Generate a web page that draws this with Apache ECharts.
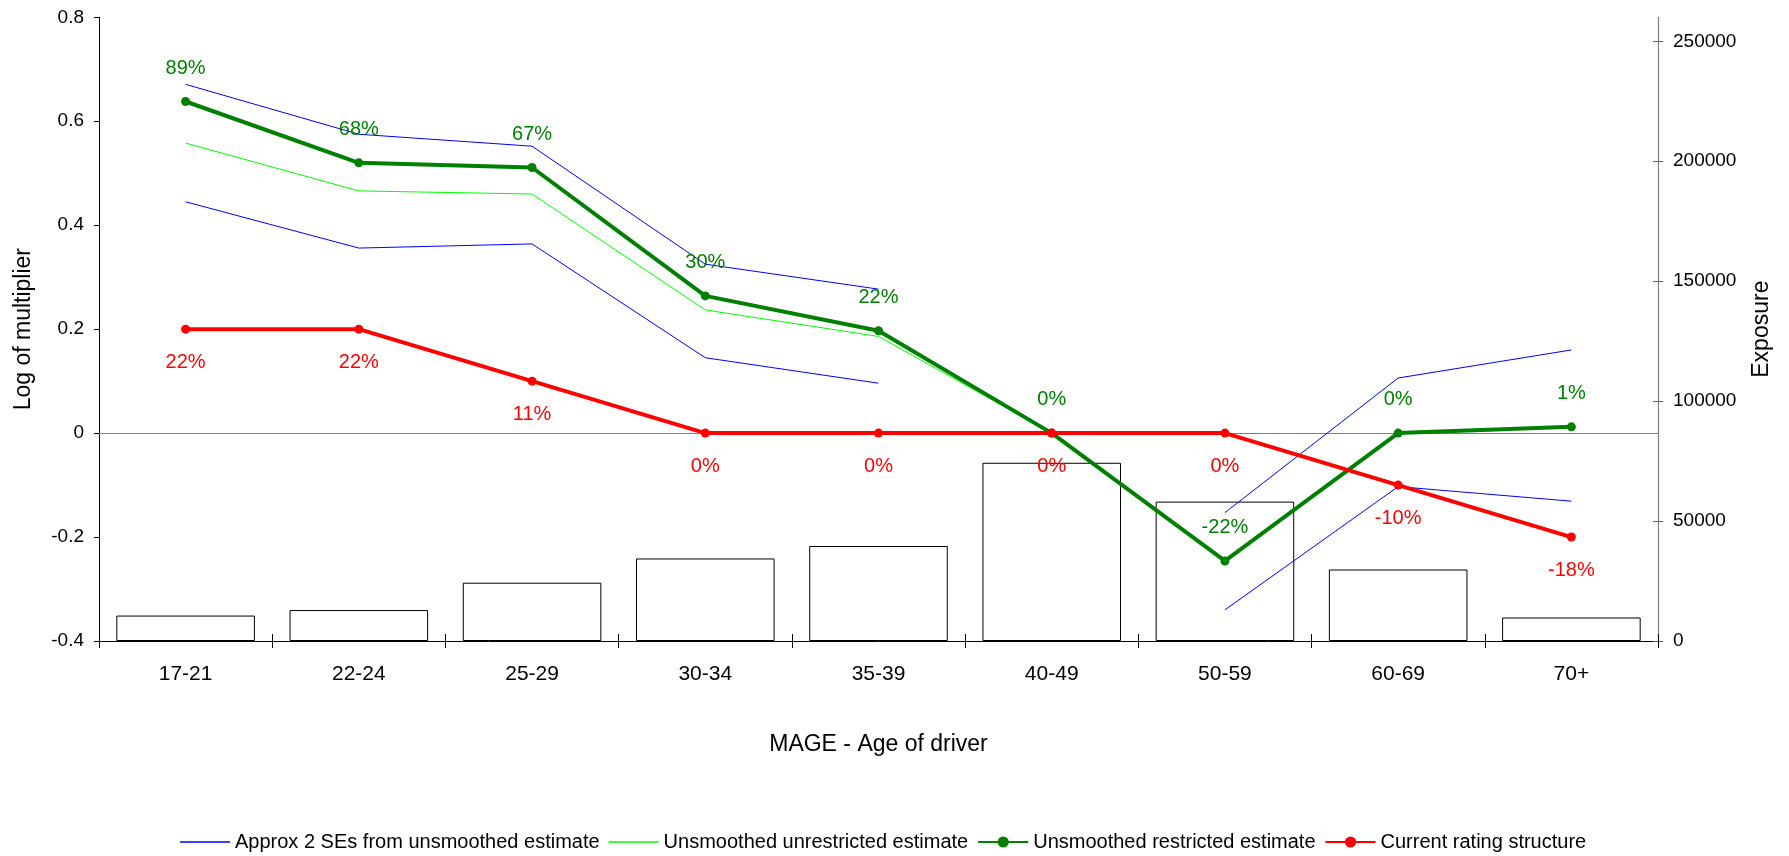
<!DOCTYPE html>
<html>
<head>
<meta charset="utf-8">
<script src="https://cdn.jsdelivr.net/npm/echarts@6/dist/echarts.min.js"></script>
<style>html,body{margin:0;padding:0;background:#fff;}#c{width:1789px;height:856px;}</style>
</head>
<body>
<div id="c"></div>
<script>
const categories = ['17-21','22-24','25-29','30-34','35-39','40-49','50-59','60-69','70+'];
const exposure = [10600, 12900, 24300, 34400, 39600, 74300, 58100, 29800, 9800];
const seUpper = [0.671, 0.575, 0.552, 0.325, 0.277, null, -0.153, 0.106, 0.160];
const seLower = [0.445, 0.356, 0.364, 0.145, 0.096, null, -0.340, -0.103, -0.131];
const unrestricted = [0.558, 0.466, 0.460, 0.237, 0.186, 0, -0.246, 0.001, 0.013];
const restricted = [0.638, 0.520, 0.511, 0.264, 0.197, 0, -0.246, 0, 0.012];
const current = [0.2, 0.2, 0.1, 0, 0, 0, 0, -0.1, -0.2];
const restrictedLabels = ['89%','68%','67%','30%','22%','0%','-22%','0%','1%'];
const currentLabels = ['22%','22%','11%','0%','0%','0%','0%','-10%','-18%'];
const leftTicks = [-0.4, -0.2, 0, 0.2, 0.4, 0.6, 0.8];
const rightTicks = [0, 50000, 100000, 150000, 200000, 250000];

const FONT = "'Liberation Sans', Arial, sans-serif";
const LINE_ICON = 'path://M0,0 L50,0 L50,1.6 L0,1.6 Z';
const chart = echarts.init(document.getElementById('c'), null, {renderer: 'canvas'});

const option = {
  animation: false,
  backgroundColor: '#fff',
  textStyle: {fontFamily: FONT, color: '#000'},
  grid: {left: 99, right: 131, top: 17.3, bottom: 215, containLabel: false, outerBoundsMode: 'none'},
  legend: {
    left: 175, top: 827,
    itemWidth: 50, itemHeight: 14, itemGap: 9,
    textStyle: {fontFamily: FONT, fontSize: 20, color: '#000'},
    data: [
      {name: 'Approx 2 SEs from unsmoothed estimate', icon: LINE_ICON},
      {name: 'Unsmoothed unrestricted estimate', icon: LINE_ICON},
      'Unsmoothed restricted estimate',
      'Current rating structure'
    ]
  },
  xAxis: [
    {
      type: 'category', data: categories, position: 'bottom',
      name: 'MAGE - Age of driver', nameLocation: 'middle', nameGap: 92,
      nameTextStyle: {fontFamily: FONT, fontSize: 23, color: '#000'},
      axisLine: {onZero: false, lineStyle: {color: '#000', width: 1}},
      axisTick: {show: true, inside: false, length: 7, lineStyle: {color: '#000'}},
      axisLabel: {fontFamily: FONT, fontSize: 21, color: '#000', margin: 23},
      splitLine: {show: false}
    },
    {
      type: 'category', data: categories, position: 'bottom',
      axisLine: {show: false, onZero: false},
      axisTick: {show: true, inside: true, length: 7, lineStyle: {color: '#000'}},
      axisLabel: {show: false}, splitLine: {show: false}
    },
    {
      type: 'category', data: categories, position: 'bottom',
      axisLine: {show: true, onZero: true, onZeroAxisIndex: 0, lineStyle: {color: '#808080', width: 1.2}},
      axisTick: {show: false}, axisLabel: {show: false}, splitLine: {show: false}
    }
  ],
  yAxis: [
    {
      type: 'value', min: -0.4, max: 0.8, interval: 0.2, position: 'left',
      name: 'Log of multiplier', nameLocation: 'middle', nameGap: 64,
      nameTextStyle: {fontFamily: FONT, fontSize: 23, color: '#000'},
      axisLine: {show: true, lineStyle: {color: '#000', width: 1}},
      axisTick: {show: true, length: 5, lineStyle: {color: '#000'}},
      axisLabel: {fontFamily: FONT, fontSize: 19, color: '#000', margin: 15,
        customValues: leftTicks,
        formatter: v => String(Math.round(v * 10) / 10)},
      splitLine: {show: false}
    },
    {
      type: 'value', min: 0, max: 260000, position: 'right',
      name: 'Exposure', nameLocation: 'middle', nameGap: 92,
      nameTextStyle: {fontFamily: FONT, fontSize: 23, color: '#000'},
      axisLine: {show: true, lineStyle: {color: '#808080', width: 1.2}},
      axisTick: {show: true, length: 5, customValues: rightTicks, lineStyle: {color: '#606060'}},
      axisLabel: {fontFamily: FONT, fontSize: 19, color: '#000', margin: 15, customValues: rightTicks,
        formatter: v => String(Math.round(v))},
      splitLine: {show: false}
    },
    {
      type: 'value', min: 0, max: 260000, position: 'right',
      axisLine: {show: false},
      axisTick: {show: true, inside: true, length: 5, customValues: rightTicks, lineStyle: {color: '#606060'}},
      axisLabel: {show: false}, splitLine: {show: false}
    }
  ],
  series: [
    {
      name: 'Exposure', type: 'bar', xAxisIndex: 0, yAxisIndex: 1, data: exposure,
      barCategoryGap: '20%', z: 1,
      itemStyle: {color: '#fff', borderColor: '#000', borderWidth: 1}
    },
    {
      name: 'Approx 2 SEs from unsmoothed estimate', type: 'line', yAxisIndex: 0, data: seUpper,
      symbol: 'none', connectNulls: false, z: 3,
      lineStyle: {color: '#0000ff', width: 1}, itemStyle: {color: '#0000ff'}
    },
    {
      name: 'Approx 2 SEs from unsmoothed estimate', type: 'line', yAxisIndex: 0, data: seLower,
      symbol: 'none', connectNulls: false, z: 3,
      lineStyle: {color: '#0000ff', width: 1}, itemStyle: {color: '#0000ff'}
    },
    {
      name: 'Unsmoothed unrestricted estimate', type: 'line', yAxisIndex: 0, data: unrestricted,
      symbol: 'none', z: 3,
      lineStyle: {color: '#00ff00', width: 1}, itemStyle: {color: '#00ff00'}
    },
    {
      name: 'Unsmoothed restricted estimate', type: 'line', yAxisIndex: 0, data: restricted,
      symbol: 'circle', symbolSize: 9, showAllSymbol: true, z: 4,
      lineStyle: {color: '#008000', width: 4}, itemStyle: {color: '#008000'},
      label: {show: true, position: 'top', distance: 19, fontFamily: FONT, fontSize: 20, color: '#008000',
        formatter: p => restrictedLabels[p.dataIndex]}
    },
    {
      name: 'Current rating structure', type: 'line', yAxisIndex: 0, data: current,
      symbol: 'circle', symbolSize: 9, showAllSymbol: true, z: 5,
      lineStyle: {color: '#ff0000', width: 4}, itemStyle: {color: '#ff0000'},
      label: {show: true, position: 'bottom', distance: 18.5, fontFamily: FONT, fontSize: 20, color: '#ff0000',
        formatter: p => currentLabels[p.dataIndex]}
    }
  ]
};
chart.setOption(option);
</script>
</body>
</html>
